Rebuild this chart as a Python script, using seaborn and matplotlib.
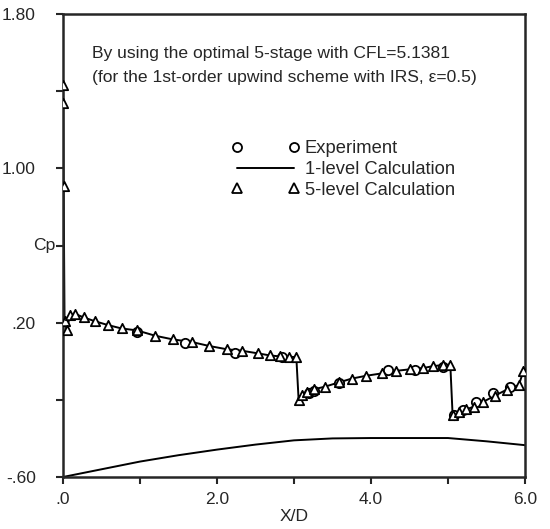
import matplotlib
matplotlib.use("Agg")
import matplotlib.pyplot as plt
from matplotlib.lines import Line2D
import seaborn as sns
import pandas as pd

# ---- data ----
five_x = [0.000, 0.003, 0.008, 0.02, 0.05, 0.09, 0.16, 0.27, 0.41, 0.58, 0.76, 0.96,
          1.20, 1.43, 1.67, 1.90, 2.13, 2.33, 2.53, 2.69, 2.82, 2.93, 3.03,
          3.06, 3.11, 3.17, 3.26, 3.40, 3.58, 3.75, 3.94, 4.14, 4.32, 4.50, 4.68,
          4.81, 4.93, 5.03, 5.06, 5.14, 5.23, 5.34, 5.46, 5.61, 5.76, 5.92, 5.98]
five_cp = [1.43, 1.34, 0.91, 0.21, 0.16, 0.24, 0.245, 0.227, 0.208, 0.188, 0.170, 0.160,
           0.132, 0.113, 0.100, 0.079, 0.062, 0.054, 0.041, 0.030, 0.025, 0.023, 0.022,
           -0.200, -0.175, -0.160, -0.145, -0.132, -0.110, -0.090, -0.075, -0.063, -0.050,
           -0.042, -0.035, -0.025, -0.020, -0.018, -0.280, -0.262, -0.250, -0.235, -0.210,
           -0.178, -0.148, -0.123, -0.050]

exp_x = [0.96, 1.58, 2.23, 2.84, 3.20, 3.26, 3.58, 4.22, 4.57, 4.93, 5.08, 5.20, 5.36, 5.59, 5.80]
exp_cp = [0.153, 0.096, 0.044, 0.023, -0.165, -0.155, -0.115, -0.046, -0.046, -0.030,
          -0.280, -0.253, -0.210, -0.166, -0.135]

one_x = [0.0, 0.5, 1.0, 1.5, 2.0, 2.5, 3.0, 3.5, 4.0, 4.5, 5.0, 5.5, 6.0]
one_cp = [-0.60, -0.56, -0.52, -0.487, -0.458, -0.432, -0.41, -0.40, -0.398, -0.398, -0.398,
          -0.415, -0.435]

xticks = [0, 1, 2, 3, 4, 5, 6]
xticklabels = [".0", "", "2.0", "", "4.0", "", "6.0"]
yticks = [-0.6, -0.2, 0.2, 0.6, 1.0, 1.4, 1.8]
yticklabels = ["-.60", "", ".20", "", "1.00", "", "1.80"]
ylabel_text = "Cp"

legend_labels = ["Experiment", "1-level Calculation", "5-level Calculation"]
note_lines = ["By using the optimal 5-stage with CFL=5.1381",
              "(for the 1st-order upwind scheme with IRS, \u03b5=0.5)"]

# ---- plotting ----
sns.set_style("ticks")
plt.rcParams["font.family"] = ["Liberation Sans", "DejaVu Sans"]
plt.rcParams["font.size"] = 12.6

fig = plt.figure(figsize=(5.5, 5.29), dpi=100)
ax = fig.add_axes([63 / 550, 52 / 529, 462 / 550, 463 / 529])

df5 = pd.DataFrame({"x": five_x, "cp": five_cp})
dfe = pd.DataFrame({"x": exp_x, "cp": exp_cp})
df1 = pd.DataFrame({"x": one_x, "cp": one_cp})

sns.lineplot(data=df5, x="x", y="cp", estimator=None, sort=False, color="black",
             lw=1.4, ax=ax, legend=False)
sns.lineplot(data=df1, x="x", y="cp", estimator=None, sort=False, color="black",
             lw=1.4, ax=ax, legend=False)
sns.scatterplot(data=dfe, x="x", y="cp", marker="o", s=45, facecolor="white",
                edgecolor="black", linewidth=1.3, ax=ax, legend=False, zorder=3)
sns.scatterplot(data=df5, x="x", y="cp", marker="^", s=45, facecolor="white",
                edgecolor="black", linewidth=1.3, ax=ax, legend=False, zorder=4)

ax.set_xlim(0, 6)
ax.set_ylim(-0.6, 1.8)
ax.set_xticks(xticks)
ax.set_xticklabels(xticklabels)
ax.set_yticks(yticks)
ax.set_yticklabels(yticklabels)
ax.tick_params(direction="out", length=5, width=1.5, labelsize=12.5)
ax.tick_params(axis="x", pad=6)
ax.tick_params(axis="y", pad=14.5)
for sp in ax.spines.values():
    sp.set_visible(True)
    sp.set_linewidth(1.8)
ax.set_xlabel("X/D", fontsize=12.6, labelpad=1)
ax.set_ylabel("")
ax.text(-0.016, 0.6, ylabel_text, transform=ax.get_yaxis_transform(), fontsize=12.6,
        ha="right", va="center")

ax.text(0.063, 0.915, note_lines[0], transform=ax.transAxes, fontsize=12.6,
        ha="left", va="center")
ax.text(0.063, 0.863, note_lines[1], transform=ax.transAxes, fontsize=12.6,
        ha="left", va="center")

handles = [
    Line2D([], [], ls="none", marker="o", mfc="white", mec="black", ms=6.5, mew=1.3),
    Line2D([], [], ls="-", color="black", lw=1.4),
    Line2D([], [], ls="none", marker="^", mfc="white", mec="black", ms=6.5, mew=1.3),
]
leg = ax.legend(handles, legend_labels, loc="upper left", bbox_to_anchor=(0.365, 0.727),
                frameon=False, numpoints=2, handlelength=3.7, handletextpad=0.3,
                labelspacing=0.2, borderpad=0, borderaxespad=0, fontsize=13.2)

fig.savefig("out.png", dpi=100)
